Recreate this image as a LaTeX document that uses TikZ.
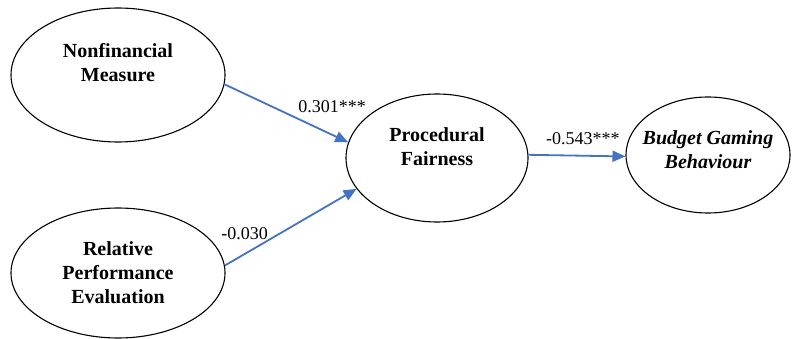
\documentclass[tikz,border=0pt]{standalone}
\usepackage{fontspec}
\setmainfont{Liberation Serif}
\usetikzlibrary{shapes,arrows.meta}
\tikzset{>={Triangle[width=11pt,length=13pt]}}
\definecolor{pathblue}{HTML}{4472C4}

\begin{document}
\begin{tikzpicture}[x=1pt,y=-1pt]

  \tikzset{
    latent/.style={draw, ellipse, line width=1.1pt, inner sep=0pt},
    vartext/.style={font=\fontsize{20}{24}\selectfont\bfseries, align=center},
    coef/.style={->, draw=pathblue, line width=1.8pt},
    est/.style={font=\fontsize{18}{20}\selectfont, inner sep=1pt}
  }

  \useasboundingbox (0,0) rectangle (792,339);

  %% latent variables
  \node[latent, minimum width=214pt, minimum height=134pt] (nm) at (118,75) {};
  \node[latent, minimum width=214pt, minimum height=130pt] (rpe) at (118,273) {};
  \node[latent, minimum width=182pt, minimum height=128pt] (pf) at (437,158) {};
  \node[latent, minimum width=164pt, minimum height=116pt] (bgb) at (708,155) {};

  \node[vartext] (nmtext) at ([yshift=12pt]nm.center) {Nonfinancial\\Measure};
  \node[vartext] (rpetext) at (rpe.center) {Relative\\Performance\\Evaluation};
  \node[vartext] (pftext) at ([yshift=11pt]pf.center) {Procedural\\Fairness};
  \node[vartext] (bgbtext) at ([yshift=5pt]bgb.center) {\itshape Budget Gaming\\\itshape Behaviour};

  %% paths
  \draw[coef] (nm.-5) -- node[est, pos=0.87, above=20pt] (b1) {0.301***} (pf.170); %% nm pf
  \draw[coef] (rpe.4) -- node[est, pos=0.15, above=12pt] (b2) {-0.030} (pf.-159); %% rpe pf
  \draw[coef] (pf.2) -- node[est, pos=0.56, above=9pt] (b3) {-0.543***} (bgb.181); %% pf bgb

\end{tikzpicture}
\end{document}
